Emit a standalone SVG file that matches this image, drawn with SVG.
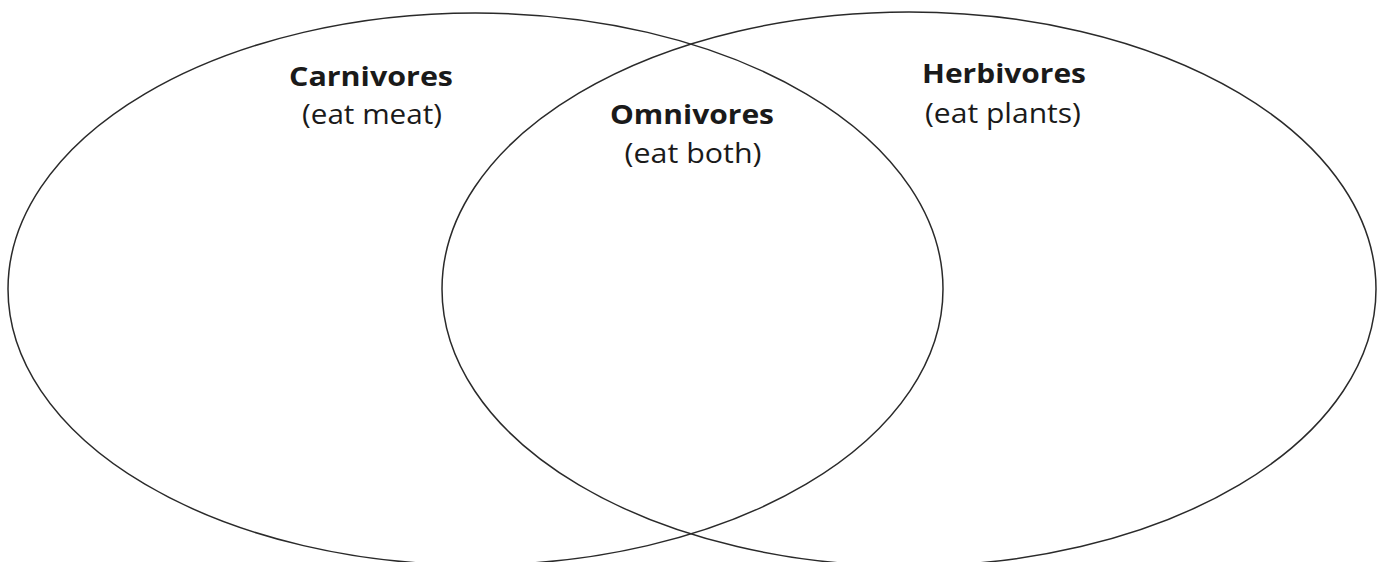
<svg xmlns="http://www.w3.org/2000/svg" width="1387" height="562" viewBox="0 0 1387 562">
<style>
.set{fill:none;stroke:#2a2a2a;stroke-width:1.5}
.t{font-family:"Open Sans","Liberation Sans",sans-serif;font-size:27px;fill:#1a1a1a;text-anchor:middle}
.b{font-weight:bold}
</style>
<rect width="1387" height="562" fill="#fff"/>
<g id="carnivores">
<ellipse class="set" cx="475.5" cy="289" rx="467.5" ry="276"/>
<text class="t b" x="371" y="86" textLength="164" lengthAdjust="spacingAndGlyphs">Carnivores</text>
<text class="t" x="372" y="124" textLength="140" lengthAdjust="spacingAndGlyphs">(eat meat)</text>
</g>
<g id="herbivores">
<ellipse class="set" cx="909" cy="289" rx="467" ry="277"/>
<text class="t b" x="1004" y="83" textLength="164" lengthAdjust="spacingAndGlyphs">Herbivores</text>
<text class="t" x="1003" y="123" textLength="156" lengthAdjust="spacingAndGlyphs">(eat plants)</text>
</g>
<g id="omnivores">
<text class="t b" x="692" y="124" textLength="164" lengthAdjust="spacingAndGlyphs">Omnivores</text>
<text class="t" x="693" y="163" textLength="137" lengthAdjust="spacingAndGlyphs">(eat both)</text>
</g>
<g id="connectors"></g>
</svg>
